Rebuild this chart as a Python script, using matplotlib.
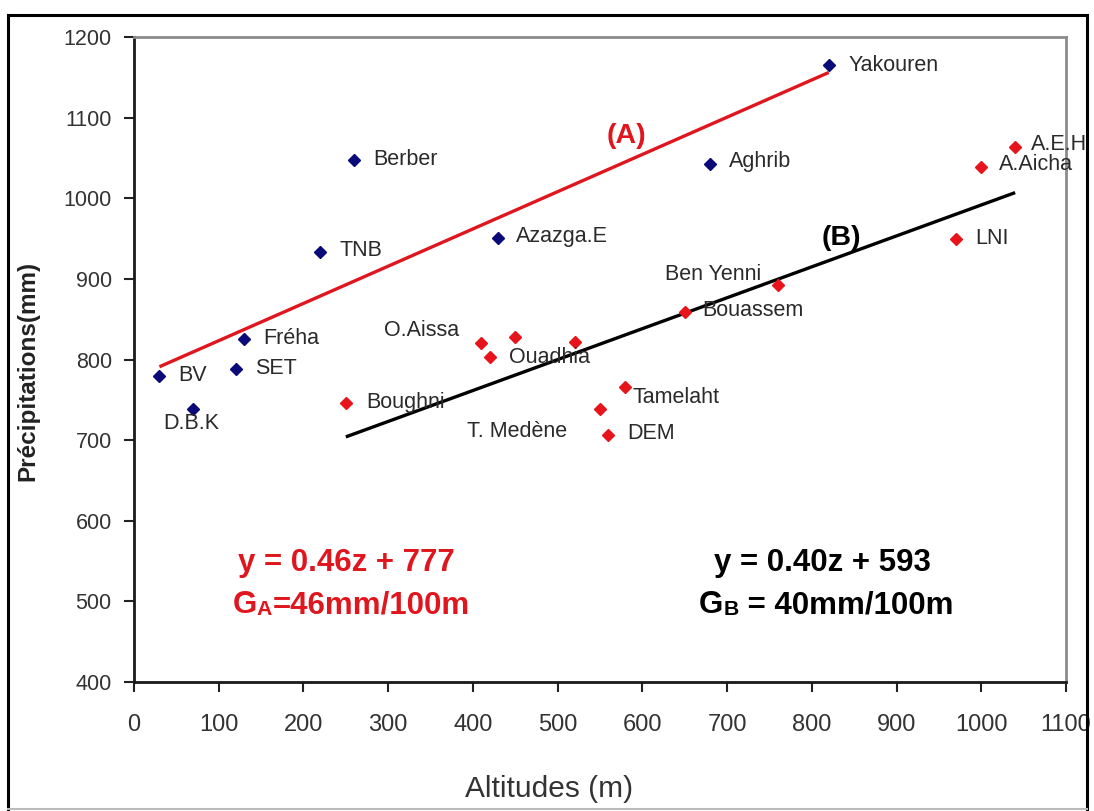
import matplotlib
matplotlib.use("Agg")
import matplotlib.pyplot as plt
from matplotlib.lines import Line2D

plt.rcParams['font.family'] = ['Liberation Sans', 'DejaVu Sans']

# ---------------- data ----------------
names_A = ['BV', 'D.B.K', 'SET', 'Fréha', 'TNB', 'Berber', 'Azazga.E', 'Aghrib', 'Yakouren']
alt_A = [30, 70, 120, 130, 220, 260, 430, 680, 820]
prec_A = [780, 738, 788, 826, 933, 1047, 951, 1043, 1165]

names_B = ['Boughni', 'O.Aissa', 'Ouadhia', '', '', 'T. Medène', 'DEM', 'Tamelaht',
           'Bouassem', 'Ben Yenni', 'LNI', 'A.Aicha', 'A.E.H']
alt_B = [250, 410, 420, 450, 520, 550, 560, 580, 650, 760, 970, 1000, 1040]
prec_B = [746, 820, 803, 828, 822, 738, 706, 766, 859, 893, 949, 1039, 1063]

trend_A_x = [30, 820]
trend_A_y = [791, 1156]
trend_B_x = [250, 1040]
trend_B_y = [704, 1007]

xticks = list(range(0, 1101, 100))
yticks = list(range(400, 1201, 100))

eq_A = 'y = 0.46z + 777'
grad_A = ('G', 'A', '=46mm/100m')
eq_B = 'y = 0.40z + 593'
grad_B = ('G', 'B', ' = 40mm/100m')

# ---------------- figure ----------------
W, H = 1094, 811
fig = plt.figure(figsize=(W / 100, H / 100), dpi=100)
fig.patch.set_facecolor('white')


def fx(px):
    return px / W


def fy(py):
    return 1 - py / H


ax = fig.add_axes([fx(134), fy(682), fx(1066) - fx(134), fy(37) - fy(682)])
ax.set_xlim(0, 1100)
ax.set_ylim(400, 1200)

blue = '#0a0a78'
red = '#e8141c'
linered = '#e0161e'
txtc = '#2a2a2a'

ax.plot(trend_A_x, trend_A_y, color=linered, lw=2.4, solid_capstyle='butt', zorder=2)
ax.plot(trend_B_x, trend_B_y, color='black', lw=2.4, solid_capstyle='butt', zorder=2)

ax.plot(alt_A, prec_A, linestyle='none', marker='D', ms=6.2, color=blue, zorder=3)
ax.plot(alt_B, prec_B, linestyle='none', marker='D', ms=6.2, color=red, zorder=3)

# label offsets in pixels (dx, dy, ha)
off = {
    'BV': (19, 0, 'left'), 'D.B.K': (-30, -14, 'left'), 'SET': (19, 1, 'left'),
    'Fréha': (19, 0, 'left'), 'TNB': (19, 2, 'left'), 'Berber': (19, 1, 'left'),
    'Azazga.E': (18, 1, 'left'), 'Aghrib': (19, 2, 'left'), 'Yakouren': (20, 0, 'left'),
    'Boughni': (20, 1, 'left'), 'O.Aissa': (-22, 13, 'right'), 'Ouadhia': (19, 0, 'left'),
    'T. Medène': (-33, -22, 'right'), 'DEM': (19, 2, 'left'), 'Tamelaht': (7, -11, 'left'),
    'Bouassem': (18, 1, 'left'), 'Ben Yenni': (-17, 10, 'right'), 'LNI': (19, 1, 'left'),
    'A.Aicha': (18, 2, 'left'), 'A.E.H': (16, 3, 'left'),
}
for names, xs, ys in ((names_A, alt_A, prec_A), (names_B, alt_B, prec_B)):
    for n, x, y in zip(names, xs, ys):
        if not n:
            continue
        dx, dy, ha = off[n]
        ax.annotate(n, (x, y), xytext=(dx, dy), textcoords='offset pixels',
                    ha=ha, va='center', fontsize=15.5, color=txtc, zorder=4,
                    annotation_clip=False)

# (A) / (B)
fig.text(fx(626), fy(136), '(A)', color=linered, fontsize=20.5, fontweight='bold',
         ha='center', va='center')
fig.text(fx(841), fy(238), '(B)', color='black', fontsize=20.5, fontweight='bold',
         ha='center', va='center')

# equations
EQ_FS = 22.5
fig.text(fx(346), fy(571), eq_A, color=linered, fontsize=EQ_FS, fontweight='bold',
         ha='center', va='baseline')
fig.text(fx(822), fy(571), eq_B, color='black', fontsize=EQ_FS, fontweight='bold',
         ha='center', va='baseline')

renderer = fig.canvas.get_renderer()


def gradient_line(parts, cx_px, base_px, color):
    big, small, rest = parts
    sizes = [EQ_FS, EQ_FS * 0.68, EQ_FS]
    drops = [0, 2, 0]
    texts = []
    widths = []
    for s, fs in zip((big, small, rest), sizes):
        t = fig.text(0, 0, s, fontsize=fs, fontweight='bold', color=color,
                     ha='left', va='baseline')
        bb = t.get_window_extent(renderer=renderer)
        texts.append(t)
        widths.append(bb.width)
    x = cx_px - sum(widths) / 2
    for t, w, d in zip(texts, widths, drops):
        t.set_position((fx(x), fy(base_px + d)))
        x += w


gradient_line(grad_A, 351, 613, linered)
gradient_line(grad_B, 826, 613, 'black')

# axes styling
ax.set_xticks(xticks)
ax.set_yticks(yticks)
ax.tick_params(axis='x', direction='out', length=7, width=1.5, pad=16, labelsize=17,
               labelcolor='#333333', color='#222222')
ax.tick_params(axis='y', direction='out', length=7, width=1.5, pad=9, labelsize=15.5,
               labelcolor='#333333', color='#222222')
for s in ('left', 'bottom'):
    ax.spines[s].set_color('#1a1a1a')
    ax.spines[s].set_linewidth(2)
for s in ('top', 'right'):
    ax.spines[s].set_color('#8c8c8c')
    ax.spines[s].set_linewidth(2)

fig.text(fx(549.5), fy(797), 'Altitudes (m)', fontsize=21.5, color='#333333',
         ha='center', va='baseline')
fig.text(fx(28), fy(371), 'Précipitations(mm)', fontsize=17.5, fontweight='bold',
         color='#222222', rotation=90, ha='center', va='center')

# outer frame
fig.add_artist(Line2D([fx(8), fx(8)], [fy(15), fy(809)], color='black', lw=2.2))
fig.add_artist(Line2D([fx(8), fx(1087)], [fy(15), fy(15)], color='black', lw=2.2))
fig.add_artist(Line2D([fx(1087), fx(1087)], [fy(15), fy(809)], color='black', lw=2.2))
fig.add_artist(Line2D([fx(8), fx(1087)], [fy(809), fy(809)], color='#bbbbbb', lw=1.5))

fig.savefig('out.png', dpi=100, facecolor='white')
